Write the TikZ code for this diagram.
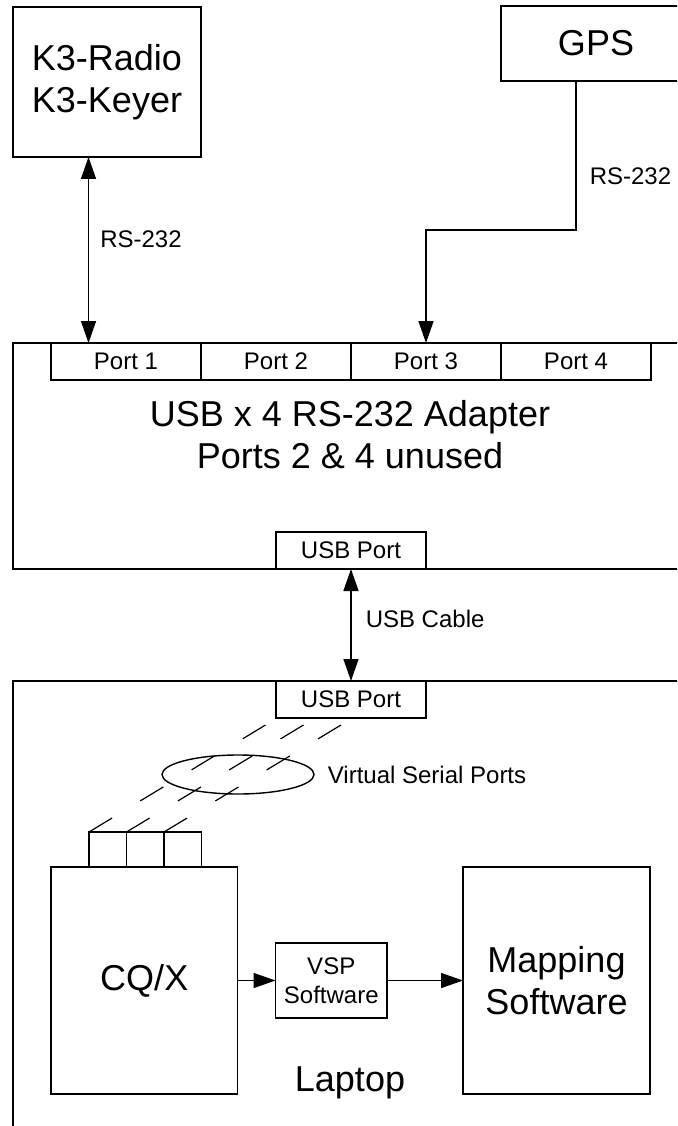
\documentclass[tikz,border=0pt]{standalone}
\usepackage{fontspec}
\setmainfont{Liberation Sans}
\usetikzlibrary{positioning, arrows.meta, shapes.geometric, calc}
\tikzset{
  dgBase/.style={rectangle, draw=black, line width=1.5pt,
                 inner sep=0pt, outer sep=0pt, align=center},
  dgBig/.style={font=\fontsize{36}{42}\selectfont},
  dgSmall/.style={font=\fontsize{24}{29}\selectfont},
  dgBox/.style={dgBase, dgBig},
  dgPort/.style={dgBase, dgSmall, minimum width=150pt, minimum height=37pt},
  dgArrow/.style={-{Triangle[length=22pt, width=15pt]}, line width=1.5pt},
  dgBiArrow/.style={{Triangle[length=22pt, width=15pt]}-{Triangle[length=22pt, width=15pt]},
                    line width=1.5pt},
  dgLabel/.style={dgSmall, inner sep=0pt},
  dgVirtual/.style={line width=1.2pt, dash pattern=on 27pt off 33pt},
}

\begin{document}
\begin{tikzpicture}[
    x=1pt, y=1pt,
    vport/.style={dgBase, minimum width=37.5pt, minimum height=35pt}
]
  \path[fill=white, use as bounding box] (0,0) rectangle (677,-1126);
  \clip (0,0) rectangle (677,-1126);

  % ─── Devices on top ───────────────────────────────────────────────────────
  \node[dgBox, minimum width=188pt, minimum height=150pt] (k3)  at (107,-82)   {K3-Radio\\K3-Keyer};
  \node[dgBox, minimum width=190pt, minimum height=75pt]  (gps) at (596,-43.5) {GPS};

  % ─── Adapter with its four serial ports ──────────────────────────────────
  \node[dgBase, minimum width=687pt, minimum height=226pt] (adapter) at (356.5,-456) {};
  \node[dgPort, anchor=north west] (p1) at ([xshift=38pt]adapter.north west) {Port 1};
  \node[dgPort, right=0pt of p1]   (p2) {Port 2};
  \node[dgPort, right=0pt of p2]   (p3) {Port 3};
  \node[dgPort, right=0pt of p3]   (p4) {Port 4};
  \node[dgBig, align=center] (adlbl) at (350,-435) {USB x 4 RS-232 Adapter\\Ports 2 \& 4 unused};
  \node[dgPort, anchor=south] (usbA) at (adapter.south -| p2.east) {USB Port};

  % ─── Laptop ──────────────────────────────────────────────────────────────
  \node[dgBase, minimum width=687pt, minimum height=459pt] (laptop) at (356.5,-910.5) {};
  \node[dgPort, anchor=north] (usbB) at (laptop.north -| p2.east) {USB Port};
  \node[dgBox, minimum width=186.5pt, minimum height=227pt] (cqx) at (144.25,-980.5) {CQ/X};
  \node[dgBase, dgSmall, minimum width=111.5pt, minimum height=75pt] (vsp) at (331.25,-980.5) {VSP\\Software};
  \node[dgBox, minimum width=187pt, minimum height=227pt] (map) at (556.5,-980.5) {Mapping\\Software};
  \node[dgBig] (laplbl) at (350,-1083) {Laptop};

  % virtual serial ports: three stubs on CQ/X, dashed links up to the USB port
  \node[vport, anchor=south west] (v1) at ([xshift=38pt]cqx.north west) {};
  \node[vport, right=0pt of v1] (v2) {};
  \node[vport, right=0pt of v2] (v3) {};
  \node[ellipse, draw, line width=1.4pt, minimum width=152pt, minimum height=39pt,
        inner sep=0pt] (vring) at (238,-774.5) {};
  \node[dgLabel, right=13pt of vring] (vlbl) {Virtual Serial Ports};
  \foreach \i/\x in {1/265.5, 2/303.5, 3/341} {
    \coordinate (t\i) at (\x,-725);
    \draw[dgVirtual] (v\i.north west) -- (t\i);
  }

  % ─── Cables ──────────────────────────────────────────────────────────────
  \coordinate (k3foot) at ([xshift=37.5pt]p1.north west);
  \draw[dgBiArrow] (k3foot) -- (k3foot |- k3.south)
        node[dgLabel, right=11pt, pos=0.56] {RS-232};
  \draw[dgArrow] ([xshift=75pt]gps.south west)
        |- node[dgLabel, right=13pt, pos=0.32] {RS-232} ($(p3.north)+(0,113)$)
        -- (p3.north);
  \draw[dgBiArrow] (usbA) -- (usbB) node[dgLabel, right=14pt, pos=0.45] {USB Cable};

  \draw[dgArrow] (cqx) -- (vsp);
  \draw[dgArrow] (vsp) -- (map);

\end{tikzpicture}
\end{document}
